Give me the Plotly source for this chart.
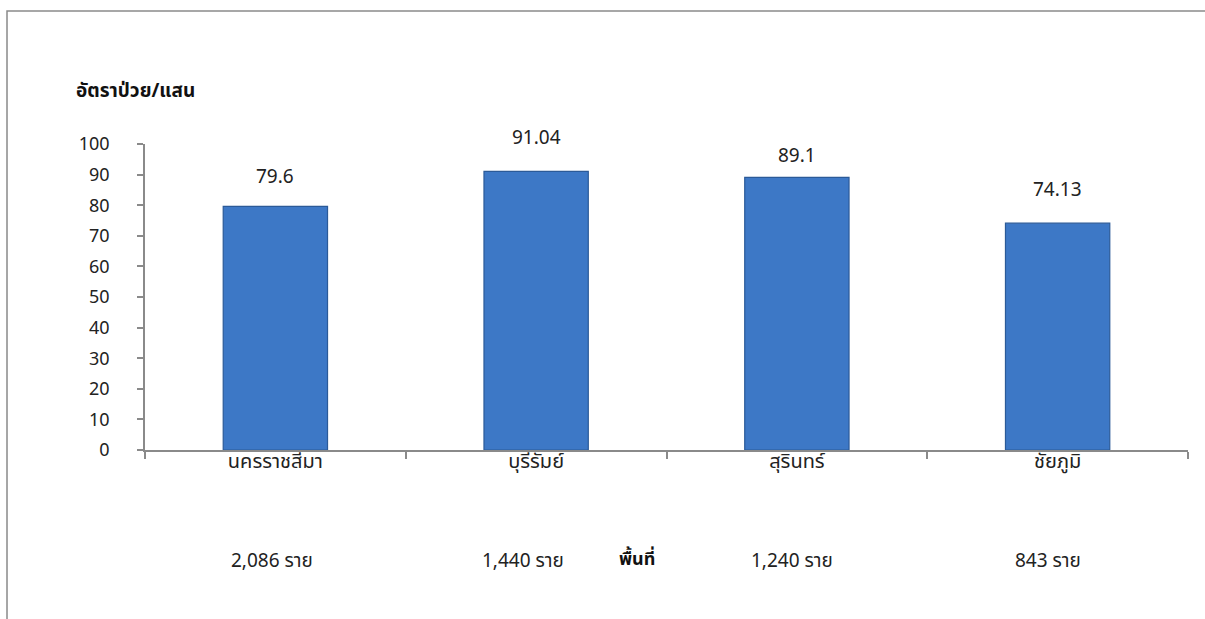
import plotly.graph_objects as go

provinces = ["นครราชสีมา", "บุรีรัมย์", "สุรินทร์", "ชัยภูมิ"]
rates = [79.6, 91.04, 89.1, 74.13]
rate_labels = ["79.6", "91.04", "89.1", "74.13"]
cases = ["2,086 ราย", "1,440 ราย", "1,240 ราย", "843 ราย"]
y_ticks = [0, 10, 20, 30, 40, 50, 60, 70, 80, 90, 100]

FONT = "'Noto Sans', 'Noto Sans Thai', 'DejaVu Sans', sans-serif"
label_shift = [30, 34, 22, 34]
case_xshift = [-3, -13, -5, -10]

fig = go.Figure()
fig.add_trace(go.Bar(
    x=provinces, y=rates,
    marker=dict(color="#3d78c6", line=dict(color="#2b5a98", width=1.2)),
    width=0.4,
    hoverinfo="x+y",
))

annotations = []
for p, v, t, s in zip(provinces, rates, rate_labels, label_shift):
    annotations.append(dict(x=p, y=v, xref="x", yref="y", text=t, showarrow=False,
                            yshift=s, yanchor="middle",
                            font=dict(size=19, color="#222", family=FONT)))
for p, c, xs in zip(provinces, cases, case_xshift):
    annotations.append(dict(x=p, y=-0.359, xref="x", yref="paper", text=c, showarrow=False,
                            xshift=xs, yanchor="middle",
                            font=dict(size=19, color="#222", family=FONT)))
annotations.append(dict(x=0.472, y=-0.352, xref="paper", yref="paper", text="<b>พื้นที่</b>",
                        showarrow=False, yanchor="middle",
                        font=dict(size=18, color="#111", family=FONT)))
annotations.append(dict(x=-0.068, y=1.176, xref="paper", yref="paper", xanchor="left",
                        yanchor="middle",
                        text="<b>อัตราป่วย/แสน</b>", showarrow=False,
                        font=dict(size=19, color="#111", family=FONT)))

fig.update_layout(
    width=1205, height=619,
    margin=dict(l=145, r=17, t=144, b=169),
    paper_bgcolor="white", plot_bgcolor="white",
    showlegend=False,
    annotations=annotations,
    shapes=[dict(type="rect", xref="paper", yref="paper", x0=-0.1323, x1=1.2, y0=-0.8, y1=1.4346,
                 line=dict(color="#8a8a8a", width=1.5), fillcolor="rgba(0,0,0,0)", layer="below")],
    font=dict(family=FONT, size=16, color="#222"),
)
fig.update_xaxes(showline=True, linecolor="#8a8a8a", linewidth=1.5, ticks="outside",
                 tickson="boundaries", ticklen=7, tickcolor="#8a8a8a", tickwidth=1.5,
                 ticklabelstandoff=-8,
                 showgrid=False, tickfont=dict(size=20, color="#222"))
fig.update_yaxes(range=[0, 100], tickvals=y_ticks, showline=True, linecolor="#8a8a8a",
                 linewidth=1.5, ticks="outside", ticklen=6, tickcolor="#8a8a8a", tickwidth=1.5,
                 ticklabelstandoff=24,
                 showgrid=False, zeroline=False, tickfont=dict(size=18, color="#222"))

fig.write_html("out.html", post_script="document.body.style.margin='0';",
               config={"displayModeBar": False})
